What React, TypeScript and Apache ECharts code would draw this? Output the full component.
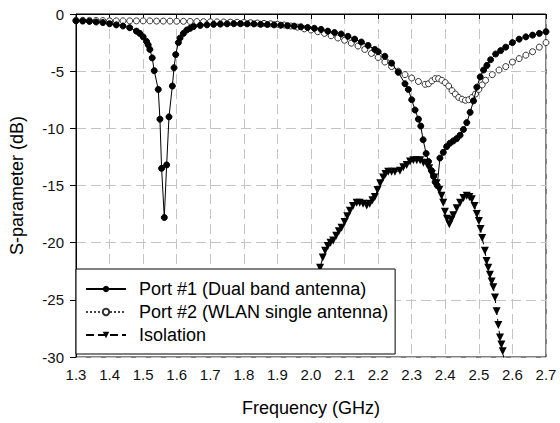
import React, { useEffect, useRef } from "react";
import * as echarts from "echarts";

const seriesNames = [
  "Port #1 (Dual band antenna)",
  "Port #2 (WLAN single antenna)",
  "Isolation",
];

const port1Freq = [
  1.3, 1.32, 1.34, 1.36, 1.38, 1.4, 1.42, 1.44, 1.46, 1.48, 1.49, 1.5, 1.51, 1.515,
  1.52, 1.527, 1.533, 1.545, 1.55, 1.555, 1.563, 1.57, 1.577, 1.587, 1.592, 1.597,
  1.605, 1.61, 1.62, 1.63, 1.64, 1.65, 1.67, 1.69, 1.71, 1.73, 1.75, 1.77, 1.79,
  1.81, 1.83, 1.85, 1.87, 1.89, 1.91, 1.93, 1.95, 1.97, 1.99, 2.01, 2.03, 2.05,
  2.07, 2.09, 2.11, 2.13, 2.15, 2.17, 2.19, 2.2, 2.22, 2.24, 2.26, 2.28, 2.29,
  2.3, 2.31, 2.32, 2.327, 2.334, 2.343, 2.35, 2.359, 2.365, 2.37, 2.376, 2.384,
  2.394, 2.404, 2.414, 2.424, 2.434, 2.444, 2.454, 2.464, 2.474, 2.484, 2.494, 2.504,
  2.514, 2.524, 2.535, 2.55, 2.565, 2.58, 2.6, 2.62, 2.64, 2.66, 2.68, 2.7,
];
const port1Db = [
  -0.6, -0.62, -0.65, -0.7, -0.75, -0.85, -0.95, -1.05, -1.2, -1.5, -1.7, -2.0, -2.4, -2.7,
  -3.1, -3.84, -4.96, -6.6, -9.2, -13.5, -17.8, -13.2, -9.0, -6.3, -4.7, -3.55,
  -2.5, -2.1, -1.7, -1.4, -1.25, -1.1, -1.0, -0.95, -0.9, -0.88, -0.86, -0.85, -0.85,
  -0.86, -0.87, -0.9, -0.92, -0.95, -0.98, -1.02, -1.06, -1.12, -1.18, -1.25, -1.35, -1.5,
  -1.62, -1.75, -1.95, -2.2, -2.45, -2.75, -3.1, -3.3, -3.7, -4.3, -5.1, -6.1, -6.6,
  -7.5, -8.4, -9.2, -9.8, -11.0, -12.2, -12.9, -13.7, -14.2, -14.7, -15.0, -12.6,
  -12.1, -11.6, -11.3, -11.1, -10.9, -10.6, -10.1, -9.5, -8.6, -7.6, -6.4, -5.5,
  -4.9, -4.5, -4.0, -3.5, -3.2, -2.9, -2.5, -2.2, -2.0, -1.85, -1.7, -1.55,
];

const port2Freq = [
  1.3, 1.32, 1.34, 1.36, 1.38, 1.4, 1.42, 1.44, 1.46, 1.48, 1.5, 1.52, 1.54, 1.56,
  1.58, 1.6, 1.62, 1.64, 1.66, 1.68, 1.7, 1.72, 1.74, 1.76, 1.78, 1.8, 1.82, 1.84,
  1.86, 1.88, 1.9, 1.92, 1.94, 1.96, 1.98, 2.0, 2.02, 2.04, 2.06, 2.08, 2.1, 2.12,
  2.14, 2.16, 2.18, 2.2, 2.22, 2.24, 2.26, 2.28, 2.3, 2.32, 2.34, 2.35, 2.36, 2.37,
  2.38, 2.39, 2.4, 2.41, 2.42, 2.43, 2.44, 2.45, 2.46, 2.47, 2.48, 2.49, 2.5, 2.51,
  2.52, 2.54, 2.56, 2.58, 2.6, 2.62, 2.64, 2.66, 2.68, 2.7,
];
const port2Db = [
  -0.55, -0.55, -0.56, -0.57, -0.58, -0.6, -0.6, -0.6, -0.6, -0.6, -0.6, -0.6, -0.62, -0.62,
  -0.62, -0.63, -0.64, -0.65, -0.66, -0.67, -0.68, -0.69, -0.7, -0.71, -0.72, -0.74, -0.76, -0.79,
  -0.82, -0.86, -0.9, -0.96, -1.05, -1.15, -1.3, -1.4, -1.55, -1.7, -1.9, -2.1, -2.3, -2.55,
  -2.8, -3.1, -3.45, -3.8, -4.2, -4.6, -5.0, -5.3, -5.6, -5.9, -6.15, -6.1, -5.85, -5.65,
  -5.65, -5.8, -6.0, -6.3, -6.7, -7.0, -7.3, -7.45, -7.55, -7.5, -7.3, -7.0, -6.6, -6.2,
  -5.8, -5.3, -4.9, -4.6, -4.2, -3.9, -3.6, -3.3, -2.9, -2.5,
];

const isoFreq = [
  2.0, 2.01, 2.02, 2.027, 2.035, 2.042, 2.05, 2.058, 2.066, 2.075, 2.083, 2.091, 2.1,
  2.108, 2.116, 2.125, 2.136, 2.145, 2.155, 2.166, 2.175, 2.183, 2.19, 2.198, 2.206,
  2.215, 2.222, 2.23, 2.24, 2.25, 2.265, 2.275, 2.285, 2.295, 2.305, 2.315, 2.325,
  2.335, 2.345, 2.352, 2.36, 2.367, 2.374, 2.382, 2.389, 2.394, 2.399, 2.405, 2.412,
  2.418, 2.424, 2.434, 2.444, 2.454, 2.464, 2.472, 2.479, 2.487, 2.494, 2.5, 2.505,
  2.51, 2.518, 2.523, 2.528, 2.533, 2.538, 2.543, 2.548, 2.553, 2.558, 2.563, 2.567,
  2.571, 2.576,
];
const isoDb = [
  -25.0, -23.8, -22.8, -22.2, -21.3, -20.7, -20.3, -20.0, -19.8, -19.4, -19.0, -18.7, -18.2,
  -17.7, -17.2, -16.8, -16.5, -16.5, -16.6, -16.75, -16.6, -16.3, -16.0, -15.4, -14.8,
  -14.3, -14.0, -13.8, -13.8, -13.8, -13.7, -13.4, -13.2, -12.9, -12.8, -12.8, -12.8,
  -13.0, -13.1, -13.5, -14.0, -14.3, -14.8, -15.4, -15.9, -16.5, -17.3, -17.9, -18.4,
  -18.0, -17.6, -17.0, -16.5, -16.1, -15.9, -16.0, -16.2, -16.8, -17.5, -18.1, -18.8,
  -19.6, -20.7, -21.6, -22.2, -22.8, -23.4, -23.9, -24.8, -26.0, -27.2, -28.3, -28.9,
  -29.5, -30.5,
];

const xMin = 1.3;
const xMax = 2.7;
const xStep = 0.1;
const yMin = -30;
const yMax = 0;
const yStep = 5;

const zip = (a: number[], b: number[]) => a.map((v, i) => [v, b[i]]);

export default function App() {
  const ref = useRef<HTMLDivElement>(null);
  useEffect(() => {
    if (!ref.current) return;
    const chart = echarts.init(ref.current, undefined, { renderer: "svg" });
    const font = "Liberation Sans, Arial, sans-serif";
    chart.setOption({
      animation: false,
      backgroundColor: "#fff",
      textStyle: { fontFamily: font },
      grid: {
        left: 76,
        right: 14,
        top: 14,
        bottom: 66,
        show: true,
        borderColor: "#000",
        borderWidth: 1,
      },
      legend: {
        orient: "vertical",
        left: 76,
        top: 269,
        backgroundColor: "#fff",
        borderColor: "#000",
        borderWidth: 1,
        borderRadius: 0,
        padding: [11, 7, 10, 9],
        itemGap: 5,
        itemWidth: 40,
        itemHeight: 8,
        textStyle: { fontFamily: font, fontSize: 18, color: "#000", padding: [0, 0, 0, 8] },
        data: seriesNames,
      },
      xAxis: {
        type: "value",
        min: xMin,
        max: xMax,
        interval: xStep,
        name: "Frequency (GHz)",
        nameLocation: "middle",
        nameGap: 42,
        nameTextStyle: { fontFamily: font, fontSize: 18, color: "#000" },
        axisLine: { lineStyle: { color: "#000" } },
        axisTick: { show: true, inside: false, length: 5, lineStyle: { color: "#000" } },
        axisLabel: {
          fontFamily: font,
          fontSize: 15,
          color: "#111",
          margin: 10,
          formatter: (v: number) => v.toFixed(1),
        },
        splitLine: { show: true, lineStyle: { color: "#c4c4c4", type: [10, 5], width: 1 } },
      },
      yAxis: {
        type: "value",
        min: yMin,
        max: yMax,
        interval: yStep,
        name: "S-parameter (dB)",
        nameLocation: "middle",
        nameGap: 50,
        nameTextStyle: { fontFamily: font, fontSize: 18, color: "#000" },
        axisLine: { lineStyle: { color: "#000" } },
        axisTick: { show: true, inside: false, length: 6, lineStyle: { color: "#000" } },
        axisLabel: { fontFamily: font, fontSize: 15, color: "#111", margin: 12 },
        splitLine: { show: true, lineStyle: { color: "#c4c4c4", type: [10, 5], width: 1 } },
      },
      series: [
        {
          name: seriesNames[0],
          type: "line",
          data: zip(port1Freq, port1Db),
          symbol: "circle",
          symbolSize: 6,
          z: 4,
          lineStyle: { color: "#000", width: 1, type: "solid" },
          itemStyle: { color: "#000", borderColor: "#000" },
        },
        {
          name: seriesNames[1],
          type: "line",
          data: zip(port2Freq, port2Db),
          symbol: "circle",
          symbolSize: 6,
          z: 3,
          lineStyle: { color: "#444", width: 1, type: "dotted" },
          itemStyle: { color: "#fff", borderColor: "#333", borderWidth: 1 },
        },
        {
          name: seriesNames[2],
          type: "line",
          data: zip(isoFreq, isoDb),
          symbol: "triangle",
          symbolRotate: 180,
          symbolSize: 8,
          z: 2,
          lineStyle: { color: "#000", width: 1, type: [8, 4] },
          itemStyle: { color: "#000" },
        },
      ],
    });
    return () => chart.dispose();
  }, []);
  return (
    <div
      ref={ref}
      style={{ position: "fixed", left: 0, top: 0, width: 560, height: 423 }}
    />
  );
}
